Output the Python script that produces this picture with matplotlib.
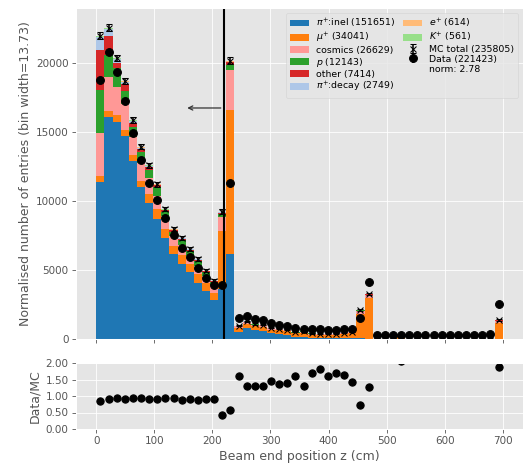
import numpy as np
import matplotlib
matplotlib.use("Agg")
import matplotlib.pyplot as plt
from matplotlib.lines import Line2D

plt.style.use("ggplot")

# ---------------- data ----------------
bin_edges = np.arange(0, 701, 14)

pi_inel = [11418, 16095, 15731, 14691, 12895, 11055, 9840, 8706, 7309, 6146,
           5433, 4822, 4051, 3491, 2836, 3615, 6160, 540, 800, 640,
           590, 400, 340, 280, 150, 180, 90, 70, 75, 70,
           80, 90, 60, 0, 0, 0, 0, 0, 0, 0,
           0, 0, 0, 0, 0, 0, 0, 0, 0, 0]
mu = [436, 436, 485, 485, 412, 436, 684, 727, 655, 618,
      655, 611, 655, 560, 531, 4240, 10422, 290, 300, 300,
      300, 280, 280, 270, 250, 260, 230, 225, 230, 235,
      280, 320, 1745, 3000, 25, 20, 30, 130, 20, 25,
      20, 15, 20, 25, 20, 15, 20, 25, 30, 1185]
cosmics = [3077, 2473, 2060, 1842, 1333, 1236, 1164, 970, 921, 727,
           727, 604, 604, 531, 524, 982, 2909, 80, 100, 90,
           90, 85, 80, 75, 70, 72, 65, 62, 62, 65,
           68, 70, 240, 180, 5, 5, 5, 10, 5, 5,
           5, 5, 5, 5, 5, 5, 5, 5, 5, 100]
proton = [3156, 1578, 1338, 970, 727, 822, 582, 606, 327, 291,
          350, 364, 364, 255, 218, 218, 364, 40, 50, 45,
          40, 38, 36, 33, 28, 32, 22, 20, 20, 19,
          22, 22, 40, 40, 0, 0, 0, 0, 0, 0,
          0, 0, 0, 0, 0, 0, 0, 0, 0, 40]
other = [2858, 1382, 412, 485, 291, 247, 190, 121, 109, 109,
         109, 73, 73, 73, 73, 109, 218, 12, 15, 14,
         13, 10, 10, 9, 7, 8, 6, 5, 5, 5,
         6, 5, 12, 15, 0, 0, 0, 0, 0, 0,
         0, 0, 0, 0, 0, 0, 0, 0, 0, 20]
pi_decay = [924, 487, 247, 170, 121, 73, 73, 48, 36, 36,
            36, 29, 29, 22, 22, 36, 36, 6, 5, 5,
            5, 4, 3, 3, 2, 3, 2, 1, 1, 1,
            1, 1, 5, 10, 0, 0, 0, 0, 0, 0,
            0, 0, 0, 0, 0, 0, 0, 0, 0, 10]
positron = [60, 55, 50, 45, 40, 35, 30, 28, 25, 22,
            20, 18, 16, 14, 12, 20, 40, 2, 2, 2,
            2, 2, 1, 1, 1, 1, 1, 1, 1, 1,
            1, 1, 3, 4, 0, 0, 0, 0, 0, 0,
            0, 0, 0, 0, 0, 0, 0, 0, 0, 2]
kaon = [50, 48, 45, 42, 38, 35, 32, 28, 25, 22,
        20, 18, 16, 14, 12, 18, 35, 1, 1, 1,
        1, 1, 1, 1, 1, 1, 1, 1, 1, 1,
        1, 1, 2, 3, 0, 0, 0, 0, 0, 0,
        0, 0, 0, 0, 0, 0, 0, 0, 0, 1]

data = [18764, 20823, 19324, 17288, 14960, 12996, 11324, 10109, 8764, 7564,
        6567, 5913, 5113, 4458, 3900, 3927, 11324, 1549, 1673, 1433,
        1360, 1185, 1018, 945, 822, 727, 705, 705, 633, 676,
        749, 727, 1550, 4150, 290, 295, 285, 290, 300, 290,
        285, 290, 295, 290, 285, 290, 295, 300, 385, 2550]

labels = [r"$\pi^{+}$:inel (151651)", r"$\mu^{+}$ (34041)", "cosmics (26629)",
          r"$p$ (12143)", "other (7414)", r"$\pi^{+}$:decay (2749)",
          r"$e^{+}$ (614)", r"$K^{+}$ (561)"]
colors = ["#1f77b4", "#ff7f0e", "#ff9896", "#2ca02c", "#d62728",
          "#aec7e8", "#ffbb78", "#98df8a"]
mc_label = "MC total (235805)"
data_label = "Data (221423)"
norm_label = "norm: 2.78"
norm = 2.78
cut_x = 220

# ---------------- figure ----------------
W, H = 528, 468
fig = plt.figure(figsize=(W / 75, H / 75), dpi=75)
ax1 = fig.add_axes([76 / W, 1 - 339 / H, 447 / W, 331 / H])
ax2 = fig.add_axes([76 / W, 1 - 429 / H, 447 / W, 66 / H], sharex=ax1)

left = bin_edges[:-1]
width = np.diff(bin_edges)
centers = left + width / 2

series = [pi_inel, mu, cosmics, proton, other, pi_decay, positron, kaon]
bottom = np.zeros(len(left))
bar_handles = []
for vals, c, lab in zip(series, colors, labels):
    v = np.array(vals, dtype=float)
    b = ax1.bar(left, v, width=width, bottom=bottom, align="edge",
                color=c, label=lab, linewidth=0)
    bar_handles.append(b)
    bottom = bottom + v
mc_total = bottom
data_arr = np.array(data, dtype=float)

mc_h = ax1.errorbar(centers, mc_total, yerr=np.sqrt(mc_total * norm),
                    fmt="x", color="black", ms=6, capsize=3, label=mc_label)
data_h = ax1.errorbar(centers, data_arr, yerr=np.sqrt(data_arr),
                      fmt="o", color="black", ms=7.5, label=data_label)

ax1.axvline(cut_x, color="black", lw=2)
ax1.annotate("", xy=(153, 16750), xytext=(218, 16750),
             arrowprops=dict(arrowstyle="->", color="#333333", lw=1.2))

ax1.set_ylim(0, 24000)
ax1.set_xlim(-35, 735)
ax1.set_ylabel("Normalised number of entries (bin width=13.73)")
ax1.tick_params(labelbottom=False)

norm_h = Line2D([], [], linestyle="none", marker="")
handles = bar_handles + [mc_h, data_h, norm_h]
labs = labels + [mc_label, data_label, norm_label]
ax1.legend(handles, labs, ncol=2, loc="upper right", fontsize=9,
           columnspacing=0.8, handletextpad=0.8, labelspacing=0.1,
           borderaxespad=0.5)

ratio = data_arr / mc_total
ax2.plot(centers, ratio, "o", color="black", ms=7)
ax2.set_ylim(0, 2)
ax2.set_yticks([0, 0.5, 1.0, 1.5, 2.0])
ax2.set_yticklabels(["0.00", "0.50", "1.00", "1.50", "2.00"])
ax2.set_xticks([0, 100, 200, 300, 400, 500, 600, 700])
ax2.set_ylabel("Data/MC")
ax2.set_xlabel("Beam end position z (cm)")

fig.savefig("out.png", dpi=75)
